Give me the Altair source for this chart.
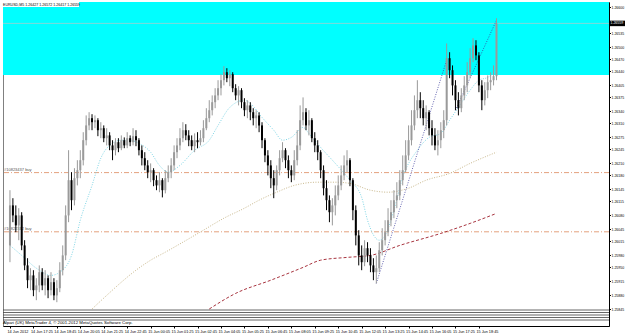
import json
import altair as alt
import pandas as pd

# ---------------- data ----------------
first_open = 1.26004
close = [1.26104,1.26079,1.26054,1.26079,1.26004,1.25954,1.25917,1.25929,1.25892,1.25904,
         1.25937,1.25904,1.25922,1.25892,1.25912,1.25879,1.25897,1.25942,1.25979,1.26079,
         1.26167,1.26117,1.26172,1.26192,1.26217,1.26267,1.26304,1.26322,1.26312,1.26317,
         1.26292,1.26297,1.26272,1.26279,1.26254,1.26242,1.26262,1.26247,1.26267,1.26254,
         1.26272,1.26262,1.26277,1.26267,1.26242,1.26222,1.26204,1.26187,1.26192,1.26167,
         1.26154,1.26167,1.26142,1.26172,1.26187,1.26204,1.26237,1.26254,1.26272,1.26292,
         1.26279,1.26267,1.26252,1.26267,1.26262,1.26272,1.26297,1.26322,1.26342,1.26362,
         1.26379,1.26397,1.26417,1.26437,1.26422,1.26432,1.26397,1.26379,1.26392,1.26362,
         1.26342,1.26354,1.26337,1.26322,1.26329,1.26304,1.26267,1.26229,1.26204,1.26172,
         1.26154,1.26192,1.26222,1.26242,1.26217,1.26192,1.26179,1.26217,1.26254,1.26317,
         1.26337,1.26304,1.26317,1.26272,1.26254,1.26237,1.26192,1.26147,1.26117,1.26087,
         1.26104,1.26129,1.26154,1.26179,1.26204,1.26217,1.26167,1.26092,1.26029,1.25979,
         1.25962,1.25997,1.25979,1.25954,1.25937,1.25947,1.25992,1.26017,1.26037,1.26067,
         1.26087,1.26117,1.26129,1.26167,1.26192,1.26229,1.26267,1.26304,1.26342,1.26367,
         1.26347,1.26322,1.26337,1.26297,1.26279,1.26254,1.26267,1.26292,1.26317,1.26472,
         1.26442,1.26404,1.26367,1.26347,1.26379,1.26404,1.26437,1.26472,1.26504,1.26479,
         1.26404,1.26367,1.26392,1.26412,1.26417,1.26427,1.26559]
high = [1.26142,1.26122,1.26104,1.26097,1.26087,1.26017,1.25972,1.25947,1.25942,1.25922,
        1.25954,1.25947,1.25942,1.25929,1.25937,1.25922,1.25917,1.25962,1.26004,1.26104,
        1.26242,1.26187,1.26197,1.26217,1.26242,1.26287,1.26329,1.26337,1.26332,1.26329,
        1.26322,1.26312,1.26304,1.26297,1.26287,1.26267,1.26272,1.26272,1.26279,1.26274,
        1.26287,1.26279,1.26297,1.26292,1.26272,1.26254,1.26237,1.26217,1.26209,1.26197,
        1.26179,1.26187,1.26172,1.26192,1.26204,1.26222,1.26254,1.26272,1.26297,1.26312,
        1.26307,1.26292,1.26279,1.26284,1.26287,1.26292,1.26317,1.26347,1.26367,1.26379,
        1.26397,1.26417,1.26432,1.26452,1.26447,1.26442,1.26437,1.26407,1.26402,1.26397,
        1.26372,1.26367,1.26362,1.26347,1.26342,1.26337,1.26312,1.26272,1.26242,1.26217,
        1.26192,1.26204,1.26242,1.26262,1.26247,1.26229,1.26204,1.26242,1.26292,1.26354,
        1.26374,1.26347,1.26342,1.26322,1.26287,1.26267,1.26242,1.26204,1.26167,1.26129,
        1.26122,1.26154,1.26179,1.26204,1.26229,1.26242,1.26222,1.26172,1.26104,1.26042,
        1.26004,1.26017,1.26012,1.25997,1.25972,1.25979,1.26012,1.26047,1.26067,1.26097,
        1.26117,1.26142,1.26162,1.26192,1.26229,1.26267,1.26304,1.26342,1.26379,1.26417,
        1.26387,1.26367,1.26354,1.26342,1.26317,1.26297,1.26292,1.26312,1.26342,1.26509,
        1.26487,1.26454,1.26417,1.26387,1.26397,1.26427,1.26462,1.26497,1.26522,1.26517,
        1.26487,1.26417,1.26412,1.26429,1.26437,1.26454,1.26572]
low = [1.25962,1.26062,1.26037,1.26017,1.25992,1.25942,1.25897,1.25892,1.25877,1.25867,
       1.25887,1.25892,1.25879,1.25872,1.25879,1.25867,1.25862,1.25887,1.25929,1.25967,
       1.26062,1.26092,1.26104,1.26154,1.26172,1.26204,1.26254,1.26292,1.26292,1.26297,
       1.26277,1.26272,1.26262,1.26254,1.26242,1.26217,1.26229,1.26237,1.26242,1.26247,
       1.26247,1.26252,1.26254,1.26252,1.26229,1.26204,1.26192,1.26172,1.26162,1.26152,
       1.26142,1.26137,1.26124,1.26134,1.26162,1.26172,1.26192,1.26222,1.26242,1.26262,
       1.26267,1.26252,1.26242,1.26237,1.26247,1.26254,1.26262,1.26292,1.26312,1.26329,
       1.26347,1.26367,1.26379,1.26404,1.26412,1.26402,1.26387,1.26367,1.26354,1.26347,
       1.26327,1.26322,1.26317,1.26304,1.26297,1.26287,1.26247,1.26212,1.26179,1.26147,
       1.26122,1.26142,1.26179,1.26212,1.26197,1.26172,1.26162,1.26167,1.26204,1.26242,
       1.26304,1.26292,1.26279,1.26262,1.26237,1.26217,1.26172,1.26129,1.26092,1.26062,
       1.26054,1.26079,1.26117,1.26142,1.26167,1.26187,1.26152,1.26067,1.26004,1.25954,
       1.25942,1.25952,1.25962,1.25937,1.25917,1.25909,1.25937,1.25979,1.26004,1.26027,
       1.26052,1.26072,1.26097,1.26117,1.26154,1.26187,1.26217,1.26254,1.26292,1.26322,
       1.26322,1.26304,1.26292,1.26279,1.26254,1.26242,1.26229,1.26247,1.26272,1.26304,
       1.26422,1.26379,1.26342,1.26329,1.26337,1.26367,1.26387,1.26422,1.26462,1.26467,
       1.26387,1.26342,1.26354,1.26372,1.26392,1.26404,1.26417]

# moving averages (read at sparse bars)
fast_bar = [0,4,9,14,17,21,24,28,31,34,38,41,44,48,51,54,58,63,68,71,75,80,82,86,90,93,96,
            100,102,106,111,116,120,122,126,128,131,134,139,143,147,150,153,157,160,163,166]
fast_ma = [1.26004,1.25979,1.25947,1.25929,1.25937,1.25979,1.26067,1.26154,1.26222,1.26254,
           1.26267,1.26267,1.26259,1.26237,1.26204,1.26187,1.26204,1.26242,1.26267,1.26304,
           1.26349,1.26367,1.26359,1.26324,1.26292,1.26267,1.26274,1.26299,1.26284,1.26249,
           1.26209,1.26167,1.26124,1.26067,1.26017,1.26029,1.26092,1.26174,1.26242,1.26274,
           1.26284,1.26317,1.26349,1.26392,1.26417,1.26424,1.26442]
mid_bar = [28,33,38,43,48,53,59,66,73,80,85,91,97,105,111,116,123,129,136,142,150,157,166]
mid_ma = [1.25845,1.25879,1.25912,1.25942,1.25967,1.25987,1.26012,1.26042,1.26072,1.26097,
          1.26117,1.26137,1.26154,1.26162,1.26162,1.26159,1.26142,1.26137,1.26147,1.26167,
          1.26184,1.26209,1.26237]
slow_bar = [68,77,89,100,106,115,123,133,147,157,166]
slow_ma = [1.25845,1.25884,1.25917,1.25949,1.25967,1.25974,1.25979,1.26004,1.26034,1.26059,1.26084]

# trend lines
trend_id = ["a", "a", "b", "b"]
trend_bar = [125, 149, 152, 166]
trend_price = [1.25909, 1.26467, 1.26342, 1.26567]

# order lines and zone
order_price = [1.26186, 1.26038]
order_text = ["#10823437 buy", "#10822332 buy"]
zone_low, zone_high = 1.26430, 1.26700

# right-scale labels (the one under the bid box is hidden by it)
price_ticks = [1.26600,1.26535,1.26500,1.26470,1.26440,1.26405,1.26375,1.26340,
               1.26310,1.26275,1.26245,1.26210,1.26180,1.26145,1.26115,1.26080,1.26045,
               1.26015,1.25980,1.25950,1.25915,1.25880,1.25845]
time_labels = ["14 Jun 2012","14 Jun 17:25","14 Jun 18:45","14 Jun 20:05","14 Jun 21:25",
               "14 Jun 22:45","15 Jun 00:05","15 Jun 01:25","15 Jun 02:45","15 Jun 04:05",
               "15 Jun 05:25","15 Jun 06:45","15 Jun 08:05","15 Jun 09:25","15 Jun 10:45",
               "15 Jun 12:05","15 Jun 13:25","15 Jun 14:45","15 Jun 16:05","15 Jun 17:25",
               "15 Jun 18:45"]
time_label_bars = [8 * k for k in range(len(time_labels))]
copyright_text = "Alpari (UK) MetaTrader 4, \u00a9 2001-2012 MetaQuotes Software Corp."

# ---------------- tables ----------------
opens = [first_open] + close[:-1]
bars = pd.DataFrame({"i": list(range(len(close))), "open": opens, "high": high,
                     "low": low, "close": close})
bars["dir"] = ["up" if c >= o else "down" for o, c in zip(opens, close)]
bid = close[-1]
title_text = "EURUSD,M5  %.5f %.5f %.5f %.5f" % (opens[-1], high[-1], low[-1], close[-1])

fast_df = pd.DataFrame({"i": fast_bar, "p": fast_ma})
mid_df = pd.DataFrame({"i": mid_bar, "p": mid_ma})
slow_df = pd.DataFrame({"i": slow_bar, "p": slow_ma})
trend_df = pd.DataFrame({"g": trend_id, "i": trend_bar, "p": trend_price})
order_df = pd.DataFrame({"p": order_price, "t": order_text})
zone_df = pd.DataFrame({"lo": [zone_low], "hi": [zone_high]})
bid_df = pd.DataFrame({"p": [bid], "t": ["%.5f" % bid]})
one = pd.DataFrame({"k": [0]})

W, H = 606, 324
FONT = "Liberation Sans"
xs = alt.Scale(domain=[-0.67, 202.68], nice=False, zero=False)
ys = alt.Scale(domain=[1.258025, 1.266125], nice=False, zero=False)
label_expr = json.dumps(time_labels) + "[round(datum.value / 8)]"

x_axis = alt.Axis(
    orient="bottom", values=time_label_bars, labelExpr=label_expr, title=None,
    labelFont=FONT, labelFontSize=3.8, labelColor="#000", labelAlign="left",
    labelBaseline="top", labelPadding=1.5, labelOffset=-3, labelOverlap=False,
    labelFlush=False, tickSize=2, tickColor="#000", domainColor="#000", grid=False)
y_axis = alt.Axis(
    orient="right", values=price_ticks, format=".5f", title=None, labelFont=FONT,
    labelFontSize=3.5, labelColor="#000", labelPadding=0.5, labelOverlap=False,
    labelFlush=False, tickSize=1.5, tickColor="#000", domainColor="#000", grid=False)

X = lambda f="i": alt.X(f + ":Q", scale=xs, axis=x_axis)
Y = lambda f="p": alt.Y(f + ":Q", scale=ys, axis=y_axis)

zone = alt.Chart(zone_df).mark_rect(color="#00ffff", clip=True).encode(
    x=alt.value(0), x2=alt.value(W), y=Y("lo"), y2="hi:Q")
bid_line = alt.Chart(bid_df).mark_rule(color="#b8c8c8", strokeWidth=0.7).encode(y=Y())
orders = alt.Chart(order_df).mark_rule(color="#e4a27e", strokeWidth=1,
                                       strokeDash=[5, 2, 1, 2]).encode(y=Y())
order_lbl = alt.Chart(order_df).mark_text(align="left", baseline="bottom", dy=-1, font=FONT,
                                          fontSize=4, color="#555555").encode(
    x=alt.value(1), y=Y(), text="t:N")
fast = alt.Chart(fast_df).mark_line(color="#7fd6e6", strokeWidth=1, strokeDash=[1, 1.5],
                                    interpolate="monotone").encode(x=X(), y=Y())
mid = alt.Chart(mid_df).mark_line(color="#c9b88c", strokeWidth=1, strokeDash=[1, 1.5],
                                  interpolate="monotone").encode(x=X(), y=Y())
slow = alt.Chart(slow_df).mark_line(color="#a8343f", strokeWidth=1, strokeDash=[3, 2],
                                    interpolate="monotone").encode(x=X(), y=Y())
trend = alt.Chart(trend_df).mark_line(color="#3c3c9c", strokeWidth=0.8,
                                      strokeDash=[1, 1.5]).encode(x=X(), y=Y(), detail="g:N")

color_scale = alt.Scale(domain=["up", "down"], range=["#9a9a9a", "#000000"])
wick = alt.Chart(bars).mark_rule(strokeWidth=1).encode(
    x=X(), y=Y("low"), y2="high:Q",
    color=alt.Color("dir:N", scale=color_scale, legend=None))
body = alt.Chart(bars).mark_bar(size=2).encode(
    x=X(), y=Y("open"), y2="close:Q",
    color=alt.Color("dir:N", scale=color_scale, legend=None))

# collapsed indicator sub-window borders (decoration, pixel positions)
seps = [alt.Chart(one).mark_rule(color="#404040", strokeWidth=0.8).encode(
            x=alt.value(0), x2=alt.value(W), y=alt.value(yy))
        for yy in (308, 310.5, 313, 315.5, 318)]
copyright_df = pd.DataFrame({"t": [copyright_text]})
copy_lbl = alt.Chart(copyright_df).mark_text(align="left", baseline="middle", font=FONT,
                                             fontSize=4.3, color="#000").encode(
    x=alt.value(0), y=alt.value(321), text="t:N")
title_df = pd.DataFrame({"t": [title_text]})
title_box = alt.Chart(title_df).mark_tick(color="#ffffff", orient="horizontal", size=77,
                                          thickness=5, opacity=1).encode(
    x=alt.value(37.5), y=alt.value(2.5))
title_lbl = alt.Chart(title_df).mark_text(align="left", baseline="middle", font=FONT,
                                          fontSize=3.6, color="#000").encode(
    x=alt.value(0), y=alt.value(2.6), text="t:N")
bid_box = alt.Chart(bid_df).mark_tick(color="#000000", orient="horizontal", size=16,
                                      thickness=5.5, opacity=1).encode(
    x=alt.value(614), y=Y())
bid_lbl = alt.Chart(bid_df).mark_text(align="left", baseline="middle", font=FONT,
                                      fontSize=3.5, color="#ffffff").encode(
    x=alt.value(607.5), y=Y(), text="t:N")

chart = alt.layer(
    zone, bid_line, orders, order_lbl, mid, slow, fast, trend, wick, body, *seps,
    copy_lbl, title_box, title_lbl, bid_box, bid_lbl
).properties(
    width=W, height=H,
    padding={"left": 3, "top": 2, "right": 16, "bottom": 7},
    autosize=alt.AutoSizeParams(type="none"),
    background="#ffffff",
).configure_view(stroke="#808080", strokeWidth=1)

chart.save("out.html", embed_options={"renderer": "svg", "actions": False})
